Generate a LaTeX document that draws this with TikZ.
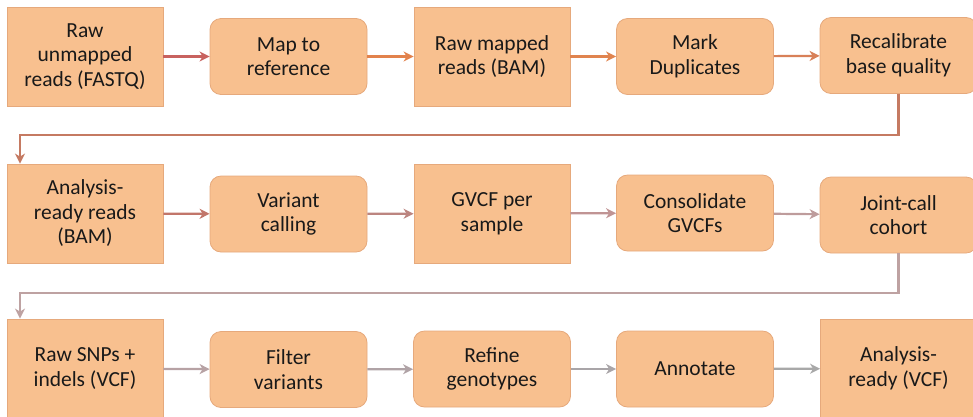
\documentclass[tikz,border=0pt]{standalone}
\usepackage{fontspec}
\setmainfont{Carlito}
\usetikzlibrary{arrows.meta}

\definecolor{peach}{HTML}{F8C08F}
\definecolor{peachline}{HTML}{E6A97C}
\definecolor{flowa}{HTML}{C8625F}
\definecolor{flowb}{HTML}{E2824C}
\definecolor{flowc}{HTML}{E0844F}
\definecolor{flowd}{HTML}{D88058}
\definecolor{flowe}{HTML}{C57A62}
\definecolor{flowf}{HTML}{C2766A}
\definecolor{flowg}{HTML}{BC8580}
\definecolor{flowh}{HTML}{C09494}
\definecolor{flowi}{HTML}{BE9C9C}
\definecolor{flowj}{HTML}{BEA2A2}
\definecolor{flowk}{HTML}{B7A2A4}
\definecolor{flowl}{HTML}{B0A3A6}
\definecolor{flowm}{HTML}{A9A5A8}
\definecolor{flown}{HTML}{A8A8A8}

\begin{document}
\begin{tikzpicture}[x=1pt, y=-1pt,
	datastep/.style={shape=rectangle, fill=peach, draw=peachline, line width=0.8pt,
		minimum width=156pt, minimum height=99pt, inner sep=0pt, align=center,
		text=black!90, font=\fontsize{21.5}{24.5}\selectfont},
	procstep/.style={datastep, rounded corners=11pt, minimum width=157pt, minimum height=76pt},
	flow/.style={-{Stealth[length=10pt, width=10pt, inset=3pt]}, line width=2.2pt}]

	\useasboundingbox (0,0) rectangle (973,416);

	% row 1
	\node[datastep] (rawreads) at (85,56.5)    {Raw\\unmapped\\reads (FASTQ)};
	\node[procstep] (mapref)   at (288.5,56.5) {Map to\\reference};
	\node[datastep] (rawbam)   at (492,56.5)   {Raw mapped\\reads (BAM)};
	\node[procstep] (markdup)  at (695,56.5)   {Mark\\Duplicates};
	\node[procstep] (recal)    at (898.5,55.5) {Recalibrate\\base quality};

	% row 2
	\node[datastep] (readybam) at (85,213.5)   {Analysis-\\ready reads\\(BAM)};
	\node[procstep] (varcall)  at (288.5,214)  {Variant\\calling};
	\node[datastep] (gvcf)     at (492,213.5)  {GVCF per\\sample};
	\node[procstep] (consol)   at (695,213)    {Consolidate\\GVCFs};
	\node[procstep] (joint)    at (898.5,215)  {Joint-call\\cohort};

	% row 3
	\node[datastep] (rawvcf)   at (85,368.5)   {Raw SNPs +\\indels (VCF)};
	\node[procstep] (filter)   at (288.5,369.5) {Filter\\variants};
	\node[procstep] (refine)   at (492,369)    {Refine\\genotypes};
	\node[procstep] (annot)    at (695,369)    {Annotate};
	\node[datastep] (readyvcf) at (898.5,368.5) {Analysis-\\ready (VCF)};

	\coordinate (turna) at (20,135);
	\coordinate (turnb) at (20,293);

	\path [flow, flowa] (rawreads) edge (mapref);
	\path [flow, flowb] (mapref)   edge (rawbam);
	\path [flow, flowc] (rawbam)   edge (markdup);
	\path [flow, flowd] (markdup)  edge (recal);
	\draw [flow, flowe] (recal.south) |- (turna) -- (turna |- readybam.north);

	\path [flow, flowf] (readybam) edge (varcall);
	\path [flow, flowg] (varcall)  edge (gvcf);
	\path [flow, flowh] (gvcf)     edge (consol);
	\path [flow, flowi] (consol)   edge (joint);
	\draw [flow, flowj] (joint.south) |- (turnb) -- (turnb |- rawvcf.north);

	\path [flow, flowk] (rawvcf)   edge (filter);
	\path [flow, flowl] (filter)   edge (refine);
	\path [flow, flowm] (refine)   edge (annot);
	\path [flow, flown] (annot)    edge (readyvcf);
\end{tikzpicture}
\end{document}
